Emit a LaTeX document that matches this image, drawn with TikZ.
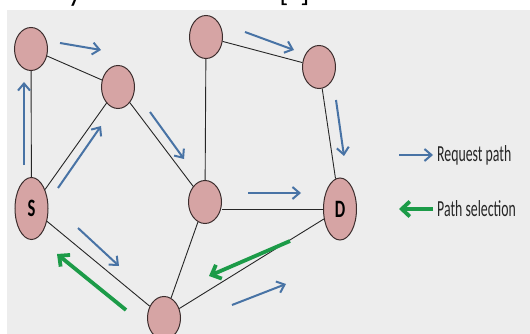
\documentclass[tikz,border=0pt]{standalone}
\usepackage{fontspec}
\setmainfont{Carlito}
\usetikzlibrary{arrows.meta,shapes.geometric}
\definecolor{bg}{RGB}{237,237,237}
\definecolor{nodepink}{RGB}{214,164,164}
\definecolor{nodeedge}{RGB}{60,45,45}
\definecolor{reqblue}{RGB}{72,115,165}
\definecolor{selgreen}{RGB}{28,155,72}
\newcommand{\vlabel}[1]{\scalebox{0.66}[1]{\fontsize{25}{25}\selectfont\bfseries #1}}
\newcommand{\ltext}[1]{\scalebox{0.6}[1]{\fontsize{23}{23}\selectfont #1}}
\begin{document}
\begin{tikzpicture}[x=1pt,y=-1pt,
  vtx/.style={ellipse,draw=nodeedge,line width=1pt,fill=nodepink,minimum width=33pt,minimum height=43pt,inner sep=0pt},
  tallvtx/.style={vtx,minimum height=62pt},
  link/.style={draw=black!85,line width=0.9pt},
  req/.style={draw=reqblue,line width=2pt,-{Straight Barb[length=7pt,width=12pt,line width=2pt]}},
  sel/.style={draw=selgreen,line width=3.8pt,-{Straight Barb[length=8pt,width=15pt,line width=3.8pt]}},
  legtext/.style={anchor=west,inner sep=0pt,text=black!85}
]
\useasboundingbox (0,0) rectangle (530,334);
\fill[white] (0,0) rectangle (530,334);
\fill[bg] (7,10) rectangle (530,334);
% cropped caption fragments at the top
\node[anchor=base,inner sep=0pt,font=\fontsize{30}{30}\selectfont] (capy) at (75,2) {y};
\node[anchor=base,inner sep=0pt,font=\fontsize{30}{30}\selectfont] (capl) at (284,2) {[};
\node[anchor=base,inner sep=0pt,font=\fontsize{30}{30}\selectfont] (capr) at (305,2) {]};
% vertices
\node[vtx] (A) at (31,49) {};
\node[vtx] (B) at (118,87) {};
\node[vtx] (C) at (206,37) {};
\node[vtx] (E) at (319,67) {};
\node[tallvtx] (S) at (31.5,208.5) {\vlabel{S}};
\node[vtx] (F) at (205,202) {};
\node[tallvtx] (D) at (340,209) {\vlabel{D}};
\node[vtx] (G) at (164,318) {};
% links
\draw[link] (A) -- (S);
\draw[link] (A) -- (B);
\draw[link] (B) -- (S);
\draw[link] (B) -- (F);
\draw[link] (C) -- (F);
\draw[link] (C) -- (E);
\draw[link] (E) -- (D);
\draw[link] (F.east |- D.west) -- (D.west);
\draw[link] (F) -- (G);
\draw[link] (S) -- (G);
\draw[link] (G) -- (D);
% request path arrows
\coordinate (r1s) at (24,165); \coordinate (r1e) at (24,82);
\coordinate (r2s) at (60,43);  \coordinate (r2e) at (101,50);
\coordinate (r3s) at (58,188); \coordinate (r3e) at (101,126);
\coordinate (r4s) at (150,112); \coordinate (r4e) at (184,159);
\coordinate (r5s) at (245,32); \coordinate (r5e) at (294,50);
\coordinate (r6s) at (336,100); \coordinate (r6e) at (344,156);
\coordinate (r7s) at (248,193); \coordinate (r7e) at (301,193);
\coordinate (r8s) at (78,228); \coordinate (r8e) at (119,266);
\coordinate (r9s) at (232,305); \coordinate (r9e) at (286,284);
\foreach \i in {1,...,9} \draw[req] (r\i s) -- (r\i e);
% path selection arrows
\coordinate (g1s) at (290,241); \coordinate (g1e) at (209,276);
\coordinate (g2s) at (126,310); \coordinate (g2e) at (57,254);
\draw[sel] (g1s) -- (g1e);
\draw[sel] (g2s) -- (g2e);
% legend
\coordinate (l1s) at (399,155); \coordinate (l1e) at (433,155);
\coordinate (l2s) at (433,209); \coordinate (l2e) at (399,209);
\draw[req] (l1s) -- (l1e);
\draw[sel] (l2s) -- (l2e);
\node[legtext] (t1) at (437,155) {\ltext{Request path}};
\node[legtext] (t2) at (437,209) {\ltext{Path selection}};
\end{tikzpicture}
\end{document}
